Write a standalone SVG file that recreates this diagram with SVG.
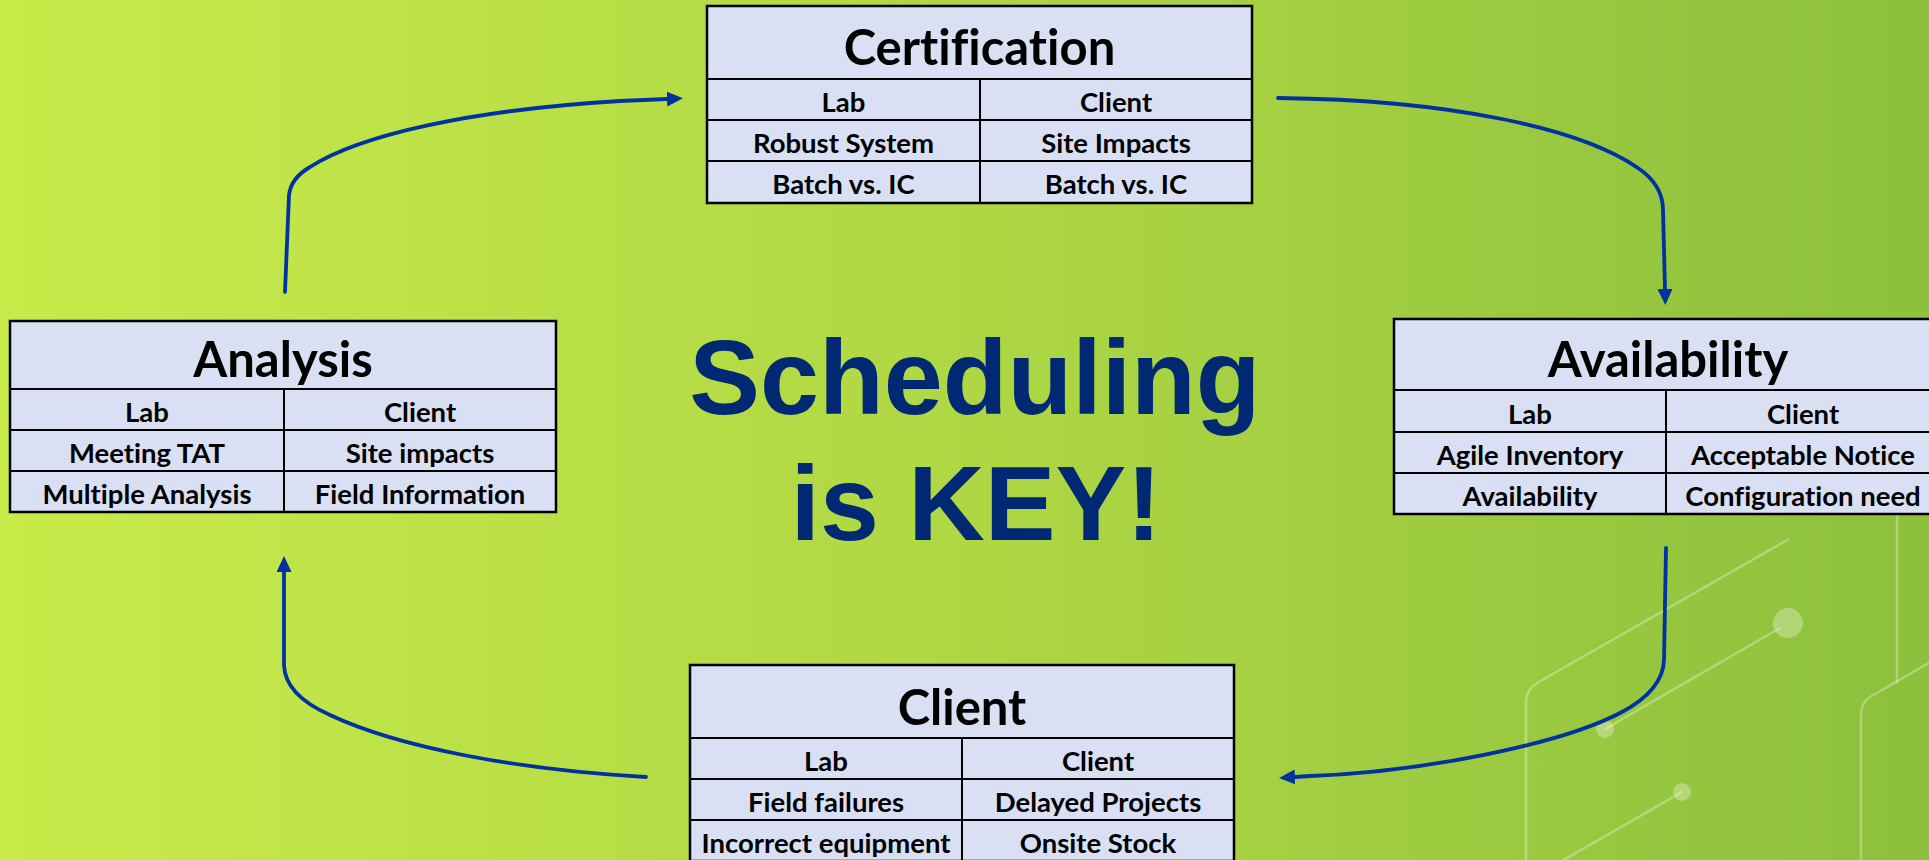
<svg xmlns="http://www.w3.org/2000/svg" width="1929" height="860" viewBox="0 0 1929 860">
<defs>
<linearGradient id="bg" x1="0" y1="0" x2="1" y2="0">
<stop offset="0" stop-color="#C8EB4A"/>
<stop offset="0.5" stop-color="#AFD744"/>
<stop offset="1" stop-color="#8CC03D"/>
</linearGradient>
<marker id="ah" markerUnits="userSpaceOnUse" markerWidth="16" markerHeight="15" refX="0" refY="7.5" orient="auto" viewBox="0 0 16 15">
<path d="M0,0 L16,7.5 L0,15 z" fill="#0033A0"/>
</marker>
<style>
.box{fill:#DAE0F3;stroke:#000;stroke-width:2.5}
.ln{stroke:#000;stroke-width:2}
.ttl{font-family:Lato,"Liberation Sans",sans-serif;font-weight:700;font-size:49px;fill:#000;text-anchor:middle;font-variant-ligatures:none;font-feature-settings:"liga" 0}
.cell{font-family:Lato,"Liberation Sans",sans-serif;font-weight:700;font-size:27.5px;fill:#000;text-anchor:middle;font-variant-ligatures:none;font-feature-settings:"liga" 0}
.conn{fill:none;stroke:#0033A0;stroke-width:3.8;stroke-linecap:round;stroke-linejoin:round;marker-end:url(#ah)}
.deco{fill:none;stroke:#FFFFFF;stroke-opacity:0.3;stroke-width:2.5}
.dot{fill:#FFFFFF;fill-opacity:0.3}
.big{font-family:"Liberation Sans",Arial,sans-serif;font-weight:700;font-size:106px;fill:#002873;text-anchor:middle}
</style>
</defs>
<rect x="0" y="0" width="1929" height="860" fill="url(#bg)"/>
<g id="decoration">
<path class="deco" d="M1789,539 L1537,683 Q1526,690 1526,702 L1526,860"/>
<path class="deco" d="M1780,628 L1605,729"/>
<circle class="dot" cx="1788" cy="623" r="15"/>
<circle class="dot" cx="1605" cy="729" r="9"/>
<path class="deco" d="M1682,792 L1560,862"/>
<circle class="dot" cx="1682" cy="792" r="9"/>
<path class="deco" d="M1897,514 L1897,683"/>
<path class="deco" d="M1932,661 L1870,697 Q1861,703 1861,715 L1861,860"/>
</g>
<g id="connectors">
<path class="conn" d="M285,292 L289,195 Q291,178 310,167 C360,135 470,110 620,101 L667,99"/>
<path class="conn" d="M1278,98 C1450,100 1580,128 1638,168 Q1663,185 1663,210 L1665,289"/>
<path class="conn" d="M1666,548 L1664,660 Q1663,690 1622,712 C1560,745 1420,772 1310,776 L1295,777"/>
<path class="conn" d="M646,777 C520,770 400,748 330,715 Q285,695 284,665 L284,572"/>
</g>
<g id="certification">
<rect class="box" x="707" y="6" width="545" height="197"/>
<line class="ln" x1="707" y1="79" x2="1252" y2="79"/>
<line class="ln" x1="707" y1="120" x2="1252" y2="120"/>
<line class="ln" x1="707" y1="161" x2="1252" y2="161"/>
<line class="ln" x1="980" y1="79" x2="980" y2="203"/>
<text class="ttl" x="979.5" y="65">Certification</text>
<text class="cell" x="843.5" y="112">Lab</text>
<text class="cell" x="1116" y="112">Client</text>
<text class="cell" x="843.5" y="153">Robust System</text>
<text class="cell" x="1116" y="153">Site Impacts</text>
<text class="cell" x="843.5" y="194">Batch vs. IC</text>
<text class="cell" x="1116" y="194">Batch vs. IC</text>
</g>
<g id="analysis">
<rect class="box" x="10" y="321" width="546" height="191"/>
<line class="ln" x1="10" y1="389" x2="556" y2="389"/>
<line class="ln" x1="10" y1="430" x2="556" y2="430"/>
<line class="ln" x1="10" y1="471" x2="556" y2="471"/>
<line class="ln" x1="284" y1="389" x2="284" y2="512"/>
<text class="ttl" x="283" y="377">Analysis</text>
<text class="cell" x="147" y="422">Lab</text>
<text class="cell" x="420" y="422">Client</text>
<text class="cell" x="147" y="463">Meeting TAT</text>
<text class="cell" x="420" y="463">Site impacts</text>
<text class="cell" x="147" y="504">Multiple Analysis</text>
<text class="cell" x="420" y="504">Field Information</text>
</g>
<g id="availability">
<rect class="box" x="1394" y="319" width="546" height="195"/>
<line class="ln" x1="1394" y1="390" x2="1940" y2="390"/>
<line class="ln" x1="1394" y1="432" x2="1940" y2="432"/>
<line class="ln" x1="1394" y1="473" x2="1940" y2="473"/>
<line class="ln" x1="1666" y1="390" x2="1666" y2="514"/>
<text class="ttl" x="1668" y="377">Availability</text>
<text class="cell" x="1530" y="424">Lab</text>
<text class="cell" x="1803" y="424">Client</text>
<text class="cell" x="1530" y="465">Agile Inventory</text>
<text class="cell" x="1803" y="465">Acceptable Notice</text>
<text class="cell" x="1530" y="506">Availability</text>
<text class="cell" x="1803" y="506">Configuration need</text>
</g>
<g id="client">
<rect class="box" x="690" y="665" width="544" height="196"/>
<line class="ln" x1="690" y1="738" x2="1234" y2="738"/>
<line class="ln" x1="690" y1="779" x2="1234" y2="779"/>
<line class="ln" x1="690" y1="820" x2="1234" y2="820"/>
<line class="ln" x1="962" y1="738" x2="962" y2="861"/>
<text class="ttl" x="962" y="725">Client</text>
<text class="cell" x="826" y="771">Lab</text>
<text class="cell" x="1098" y="771">Client</text>
<text class="cell" x="826" y="812">Field failures</text>
<text class="cell" x="1098" y="812">Delayed Projects</text>
<text class="cell" x="826" y="853">Incorrect equipment</text>
<text class="cell" x="1098" y="853">Onsite Stock</text>
</g>
<g id="headline">
<text class="big" x="975" y="414">Scheduling</text>
<text class="big" x="976" y="540">is KEY!</text>
</g>
</svg>
